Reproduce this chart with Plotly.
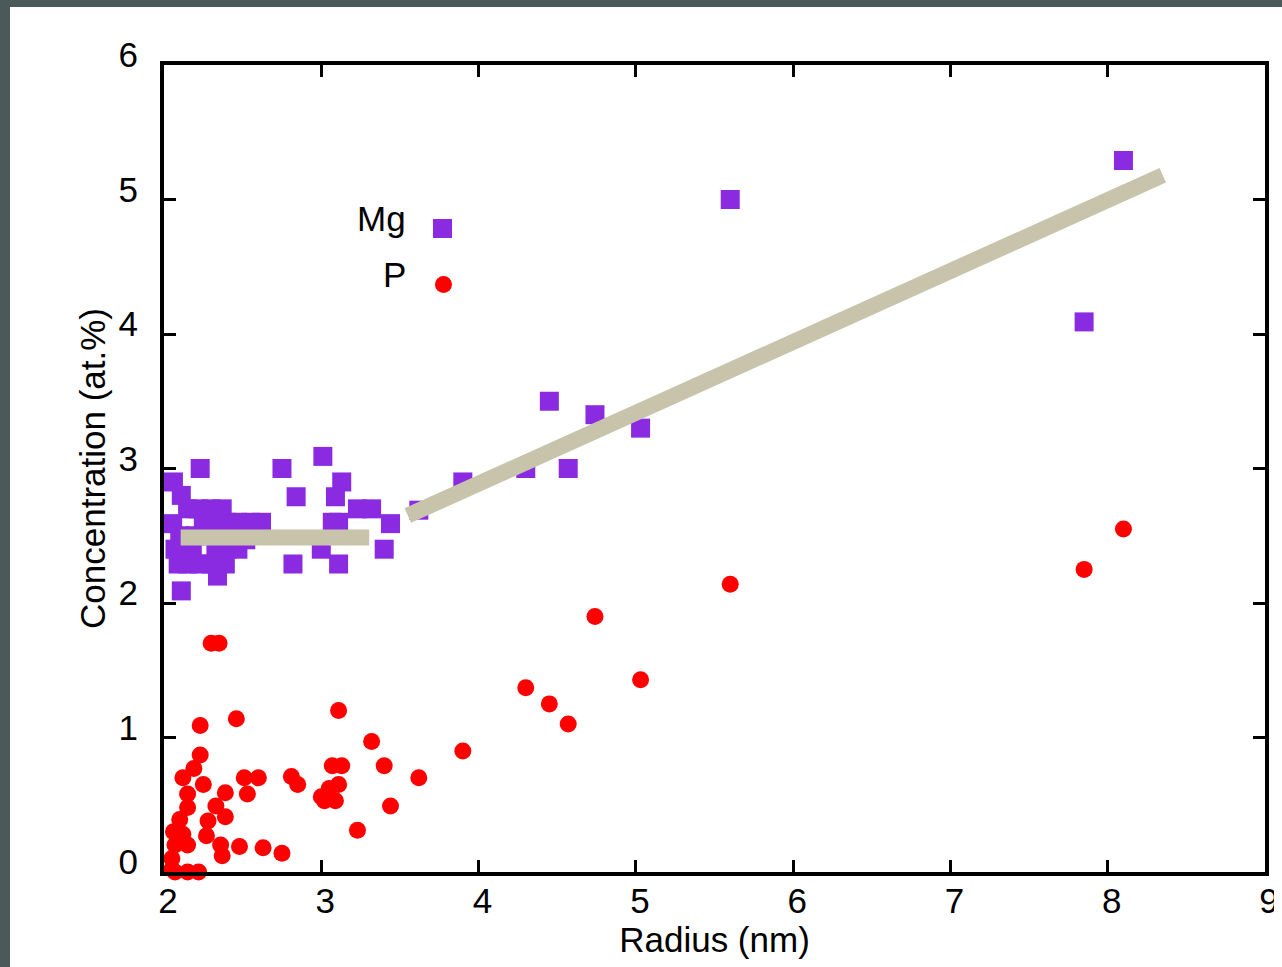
import plotly.graph_objects as go

# ---- data ----
mg_x = [2.06, 2.11, 2.23, 2.15, 2.22, 2.30, 2.37,
        2.055, 2.25, 2.32, 2.40, 2.47, 2.55, 2.62,
        2.10, 2.20, 2.30, 2.45, 2.52,
        2.07, 2.12, 2.18, 2.33, 2.40, 2.47,
        2.09, 2.15, 2.22, 2.30, 2.39,
        2.34, 2.11,
        2.75, 2.84, 2.82, 3.01, 3.09, 3.13, 3.00, 3.07, 3.11, 3.11,
        3.23, 3.32, 3.44, 3.40, 3.62, 3.90, 4.30, 4.57, 4.45, 4.74,
        5.03, 5.60, 7.85, 8.10]
mg_y = [2.90, 2.80, 3.00, 2.70, 2.70, 2.70, 2.70,
        2.59, 2.59, 2.60, 2.60, 2.60, 2.60, 2.60,
        2.50, 2.50, 2.50, 2.50, 2.47,
        2.40, 2.40, 2.40, 2.40, 2.40, 2.40,
        2.29, 2.29, 2.29, 2.29, 2.29,
        2.20, 2.09,
        3.00, 2.79, 2.29, 3.09, 2.79, 2.90, 2.40, 2.60, 2.60, 2.29,
        2.70, 2.70, 2.59, 2.40, 2.69, 2.90, 3.00, 3.00, 3.50, 3.40,
        3.30, 5.00, 4.09, 5.29]

p_x = [2.05, 2.05, 2.06, 2.07, 2.07, 2.10, 2.12, 2.15, 2.15, 2.22,
       2.12, 2.15, 2.15, 2.19, 2.23, 2.23, 2.25, 2.27, 2.28, 2.30,
       2.33, 2.35, 2.36, 2.37, 2.39, 2.39, 2.46, 2.48, 2.51, 2.53,
       2.60, 2.63, 2.75, 2.81, 2.85, 3.00, 3.02, 3.05, 3.07, 3.09,
       3.11, 3.13, 3.11, 3.23, 3.32, 3.40, 3.44, 3.62, 3.90, 4.30,
       4.45, 4.57, 4.74, 5.03, 5.60, 7.85, 8.10]
p_y = [0.02, 0.10, 0.30, 0.20, 0.00, 0.39, 0.28, 0.20, 0.00, 0.00,
       0.70, 0.58, 0.48, 0.77, 0.87, 1.09, 0.65, 0.27, 0.38, 1.70,
       0.49, 1.70, 0.20, 0.12, 0.41, 0.59, 1.14, 0.19, 0.70, 0.58,
       0.70, 0.18, 0.14, 0.71, 0.65, 0.56, 0.53, 0.62, 0.79, 0.53,
       0.65, 0.79, 1.20, 0.31, 0.97, 0.79, 0.49, 0.70, 0.90, 1.37,
       1.25, 1.10, 1.90, 1.43, 2.14, 2.25, 2.55]

trend1_x = [2.106, 3.305]
trend1_y = [2.487, 2.487]
trend2_x = [3.55, 8.35]
trend2_y = [2.65, 5.18]

x_ticks = [2, 3, 4, 5, 6, 7, 8, 9]
y_ticks = [0, 1, 2, 3, 4, 5, 6]

MG_COLOR = "#8a2be2"
P_COLOR = "#ff0000"
LINE_COLOR = "#c8c4ac"
FRAME_COLOR = "#4b5959"
FONT = "Liberation Sans, Arial, sans-serif"

# The page keeps its default 8px body margin; the figure is sized so the page is
# exactly 1282x967 and positioned so the plot area lands at page x 164-1265, y 65-872.
OFF = 8
W, H = 1282 - OFF, 967 - 2 * OFF
ML, MT = 164 - OFF, 65 - OFF
MR = W - (1265 - OFF)
MB = H - (872 - OFF)
PW, PH = W - ML - MR, H - MT - MB


def px_x(page_px):
    return (page_px - OFF - ML) / PW


def px_y(page_py):
    return (H - MB - (page_py - OFF)) / PH


fig = go.Figure()
fig.add_trace(go.Scatter(x=mg_x, y=mg_y, mode="markers", name="Mg",
                         marker=dict(symbol="square", size=19, color=MG_COLOR, line=dict(width=0)),
                         cliponaxis=False, showlegend=False))
fig.add_trace(go.Scatter(x=p_x, y=p_y, mode="markers", name="P",
                         marker=dict(symbol="circle", size=17, color=P_COLOR, line=dict(width=0)),
                         cliponaxis=False, showlegend=False))
fig.add_trace(go.Scatter(x=trend1_x, y=trend1_y, mode="lines",
                         line=dict(color=LINE_COLOR, width=16), showlegend=False))
fig.add_trace(go.Scatter(x=trend2_x, y=trend2_y, mode="lines",
                         line=dict(color=LINE_COLOR, width=16), showlegend=False))

axis_common = dict(showgrid=False, zeroline=False, showline=True, linecolor="black",
                   linewidth=4, mirror="ticks", ticks="inside", ticklen=12, tickwidth=3,
                   tickcolor="black", automargin=False,
                   tickfont=dict(family=FONT, size=35, color="black"))

fig.update_xaxes(range=[2, 9], tickvals=x_ticks, ticktext=[str(v) for v in x_ticks],
                 title=dict(text="Radius (nm)", font=dict(family=FONT, size=35, color="black"), standoff=19),
                 ticklabelshift=4, ticklabelstandoff=-5, **axis_common)
fig.update_yaxes(range=[0, 6], tickvals=y_ticks, ticktext=[str(v) for v in y_ticks],
                 title=dict(text="Concentration (at.%)", font=dict(family=FONT, size=35, color="black"), standoff=3),
                 ticklabelshift=-10, ticklabelstandoff=15, **axis_common)

shapes = [
    # part of the dark left strip that falls inside the figure
    dict(type="rect", xref="paper", yref="paper", x0=px_x(0), x1=px_x(10), y0=px_y(967), y1=px_y(0),
         fillcolor=FRAME_COLOR, line=dict(width=0), layer="below"),
    # legend keys
    dict(type="rect", xref="paper", yref="paper", x0=px_x(433), x1=px_x(452), y0=px_y(238), y1=px_y(219),
         fillcolor=MG_COLOR, line=dict(width=0)),
    dict(type="circle", xref="paper", yref="paper", x0=px_x(435), x1=px_x(452), y0=px_y(293), y1=px_y(276),
         fillcolor=P_COLOR, line=dict(width=0)),
]

annotations = [
    dict(text="Mg", xref="paper", yref="paper", x=px_x(408), y=px_y(218), xanchor="right", yanchor="middle",
         showarrow=False, font=dict(family=FONT, size=35, color="black")),
    dict(text="P", xref="paper", yref="paper", x=px_x(408), y=px_y(274), xanchor="right", yanchor="middle",
         showarrow=False, font=dict(family=FONT, size=35, color="black")),
]

fig.update_layout(template="none", width=W, height=H,
                  margin=dict(l=ML, r=MR, t=MT, b=MB, pad=0, autoexpand=False),
                  paper_bgcolor="white", plot_bgcolor="white",
                  shapes=shapes, annotations=annotations, showlegend=False)

# page background only (no layout change): dark strips along the left and top edges
post = ("document.body.style.background='linear-gradient(to right,%s 10px,rgba(0,0,0,0) 10px),"
        "linear-gradient(to bottom,%s 7px,#ffffff 7px)';" % (FRAME_COLOR, FRAME_COLOR))

fig.write_html("out.html", config={"displayModeBar": False}, post_script=post)
